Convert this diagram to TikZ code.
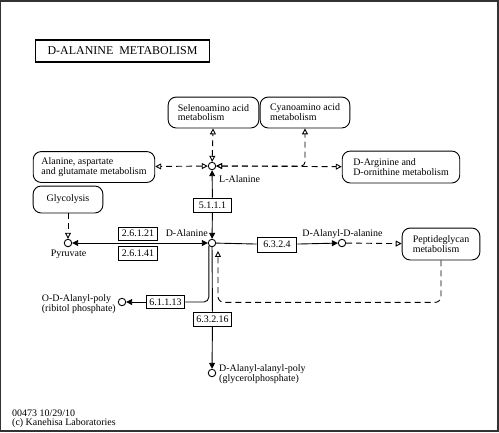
\documentclass[tikz,border=0pt]{standalone}
\usepackage{fontspec}
\setmainfont{Liberation Serif}
\usetikzlibrary{backgrounds,arrows.meta}

\tikzset{
  fa/.tip={Triangle[length=6pt,width=6pt]},
  oa/.tip={Triangle[open,length=6pt,width=6pt]},
  titlebox/.style={draw, line width=1.5pt, minimum width=175, minimum height=22, inner sep=0, font=\fontsize{12}{12}\selectfont},
  map/.style={draw, rounded corners=8, line width=0.9pt, minimum height=31, inner sep=0, align=left},
  enzyme/.style={draw, line width=0.9pt, minimum width=39, minimum height=14, inner sep=0},
  cpd/.style={draw, circle, line width=0.9pt, minimum size=7.5, inner sep=0, fill=white},
  lbl/.style={inner sep=0, align=left},
  link/.style={line width=0.9pt},
  maplink/.style={line width=0.9pt, dash pattern=on 6pt off 4pt},
}

\begin{document}
\begin{tikzpicture}[x=1bp, y=-1bp, font=\fontsize{10}{9}\selectfont,
  background rectangle/.style={fill=white}, show background rectangle, inner frame sep=0]

\useasboundingbox (0,0) rectangle (499,432);

% frame
\draw[line width=1.5pt, black!80] (0.75,0.75) rectangle (497.8,430.8);

% title
\node[titlebox] (title) at (122.5,51) {D-ALANINE\ \ METABOLISM};

% maps
\node[map, minimum width=91] (seleno) at (213.5,112.5) {Selenoamino acid\\metabolism};
\node[map, minimum width=90] (cyano) at (305,112.5) {Cyanoamino acid\\metabolism};
\node[map, minimum width=122] (ala) at (94,167) {Alanine, aspartate\\and glutamate metabolism};
\node[map, minimum width=118, minimum height=32] (arg) at (401,167) {D-Arginine and\\D-ornithine metabolism};
\node[map, minimum width=70, minimum height=27] (glyco) at (68,199.5) {Glycolysis};
\node[map, minimum width=78, minimum height=32] (pepti) at (441,244) {Peptideglycan\\metabolism};

% compounds
\node[cpd] (lala) at (212,166) {};
\node[cpd] (dala) at (212,243) {};
\node[cpd] (pyr) at (68,243) {};
\node[cpd] (dalaala) at (342,243) {};
\node[cpd] (odpoly) at (122,302) {};
\node[cpd] (daapoly) at (212,373) {};

% compound names
\path (219,179) node[lbl, anchor=west] {L-Alanine};
\path (208,233) node[lbl, anchor=east] {D-Alanine};
\path (68.5,254) node[lbl] {Pyruvate};
\path (342.5,234) node[lbl] {D-Alanyl-D-alanine};
\path (116,304.5) node[lbl, anchor=east] {O-D-Alanyl-poly\\(ribitol phosphate)};
\path (219,374.5) node[lbl, anchor=west] {D-Alanyl-alanyl-poly\\(glycerolphosphate)};

% enzymes
\node[enzyme] (e5111) at (212.5,205) {5.1.1.1};
\node[enzyme, minimum height=13] (e26121) at (138,233.5) {2.6.1.21};
\node[enzyme] (e26141) at (138,253) {2.6.1.41};
\node[enzyme, minimum width=40, minimum height=15] (e6324) at (277,244.5) {6.3.2.4};
\node[enzyme, minimum height=13] (e61113) at (165.5,302) {6.1.1.13};
\node[enzyme] (e63216) at (212.5,319) {6.3.2.16};

% reactions
\draw[link, fa-fa] (pyr) -- (dala);
\draw[link, -fa] (e5111) -- (dala);
\draw[link, fa-] (lala) -- (e5111);
\draw[link] (dala) -- (e6324);
\draw[link, -fa] (e6324) -- (dalaala);
\draw[link, rounded corners=5] (dala.221) |- (e61113.east);
\draw[link, -fa] (e61113) -- (odpoly);
\draw[link] (dala) -- (e63216);
\draw[link, -fa] (e63216) -- (daapoly);

% map links
\draw[maplink, oa-oa] (lala) -- (seleno);
\draw[maplink, oa-oa] (lala) -- (ala);
\draw[maplink, oa-oa, rounded corners=4] (lala) -| (cyano.south);
\draw[maplink, oa-oa] (lala) -- (arg);
\draw[maplink, -oa] (glyco) -- (pyr);
\draw[maplink, -oa] (dalaala) -- (pepti);
\draw[maplink, -oa, rounded corners=6] (pepti.south) -- ++(0,42) -| ([xshift=6pt,yshift=-8pt]dala.center);

% footer
\path (12,418.5) node[lbl, anchor=west] {00473 10/29/10\\(c) Kanehisa Laboratories};

\end{tikzpicture}
\end{document}
